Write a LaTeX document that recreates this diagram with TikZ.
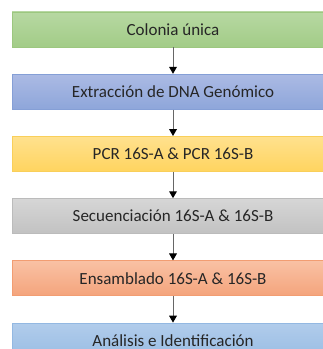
\documentclass[tikz,border=0pt]{standalone}
\usepackage{fontspec}
\setmainfont{Carlito}
\usepackage{tikz}
\usetikzlibrary{positioning, arrows.meta}

\definecolor{greenTop}{HTML}{B7D8A2}
\definecolor{greenBot}{HTML}{A2CC87}
\definecolor{greenLine}{HTML}{9CC77F}
\definecolor{blueTop}{HTML}{ABBAE4}
\definecolor{blueBot}{HTML}{8EA6DA}
\definecolor{blueLine}{HTML}{859FD6}
\definecolor{yellowTop}{HTML}{FFE18E}
\definecolor{yellowBot}{HTML}{FFD45F}
\definecolor{yellowLine}{HTML}{F9CF5A}
\definecolor{greyTop}{HTML}{D6D6D6}
\definecolor{greyBot}{HTML}{C2C2C2}
\definecolor{greyLine}{HTML}{BBBBBB}
\definecolor{orangeTop}{HTML}{F9C1A4}
\definecolor{orangeBot}{HTML}{F4A47C}
\definecolor{orangeLine}{HTML}{F29D72}
\definecolor{skyTop}{HTML}{B1CCEB}
\definecolor{skyBot}{HTML}{99BDE4}
\definecolor{skyLine}{HTML}{93B8E2}
\definecolor{textGrey}{HTML}{262626}

\begin{document}
\begin{tikzpicture}[
    x=0.75pt, y=0.75pt,
    node distance=19.8pt,
    stepbox/.style={minimum width=241.5pt, minimum height=26.25pt, inner sep=0pt,
      font=\fontsize{12.75}{15}\selectfont, text=textGrey, line width=0.6pt},
    flow/.style={draw=black!60, line width=0.75pt, -{Triangle[length=5.2pt, width=5.8pt, fill=black, color=black]}}
  ]
  % Page frame
  \useasboundingbox (0,0) rectangle (323,-349);
  \clip (0,0) rectangle (323,-349);

  % Steps of the workflow
  \node[stepbox, top color=greenTop, bottom color=greenBot, draw=greenLine] (colonia) at (173,-29.5) {Colonia única};
  \node[stepbox, top color=blueTop, bottom color=blueBot, draw=blueLine, below=of colonia] (extraccion) {Extracción de DNA Genómico};
  \node[stepbox, top color=yellowTop, bottom color=yellowBot, draw=yellowLine, below=of extraccion] (pcr) {PCR 16S-A \& PCR 16S-B};
  \node[stepbox, top color=greyTop, bottom color=greyBot, draw=greyLine, below=of pcr] (secuenciacion) {Secuenciación 16S-A \& 16S-B};
  \node[stepbox, top color=orangeTop, bottom color=orangeBot, draw=orangeLine, below=of secuenciacion] (ensamblado) {Ensamblado 16S-A \& 16S-B};
  \node[stepbox, top color=skyTop, bottom color=skyBot, draw=skyLine, below=of ensamblado] (analisis) {Análisis e Identificación};

  % Arrows
  \draw[flow] (colonia) -- (extraccion);
  \draw[flow] (extraccion) -- (pcr);
  \draw[flow] (pcr) -- (secuenciacion);
  \draw[flow] (secuenciacion) -- (ensamblado);
  \draw[flow] (ensamblado) -- (analisis);
\end{tikzpicture}
\end{document}
